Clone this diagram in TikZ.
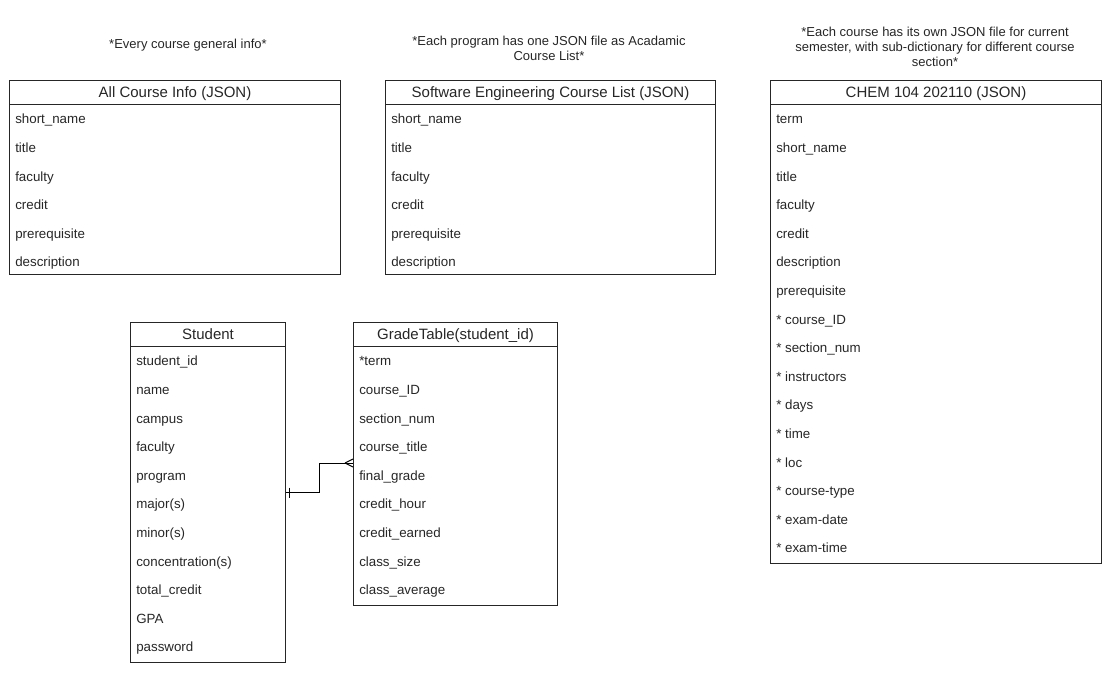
\documentclass[tikz,border=0pt]{standalone}
\usepackage{fontspec}
\setmainfont{Liberation Sans}
\usetikzlibrary{calc}
\def\pxu{0.75pt}
\tikzset{
	frame/.style={draw=black!85, line width=\pxu, inner sep=0pt, anchor=north west},
	header/.style={inner sep=0pt, text=black!85, text height=8pt, text depth=2.5pt, font=\fontsize{11.25}{13}\selectfont},
	field/.style={inner sep=0pt, anchor=west, text=black!85, text height=7.2pt, text depth=2.2pt, font=\fontsize{10}{12}\selectfont},
	caption/.style={inner sep=0pt, align=center, text=black!85, font=\fontsize{9.75}{11.25}\selectfont},
	relation/.style={line width=\pxu},
}
\def\jsonframe(#1)(#2:#3:#4:#5)#6% Syntax: (name) (left:top:width:height) {title}
{ \node[frame, minimum width=#4*\pxu, minimum height=#5*\pxu] (#1) at (#2,#3) {};
  \draw[draw=black!85, line width=\pxu] ($(#1.north west)+(0,24)$) -- ($(#1.north east)+(0,24)$);
  \node[header] (#1-title) at ($(#1.north)+(0,13.5)$) {#6}; }
\begin{document}
\begin{tikzpicture}[x=0.75pt,y=-0.75pt]
	\useasboundingbox (0,0) rectangle (1113,685);
	\node[caption] (info-note) at (188,45) {*Every course general info*};
	\node[caption] (prog-note) at (549,48) {*Each program has one JSON file as Acadamic\\Course List*};
	\node[caption] (chem-note) at (935,47) {*Each course has its own JSON file for current\\semester, with sub-dictionary for different course\\section*};
	\jsonframe(info)(9:80:331:194){All Course Info (JSON)}
	\foreach \f [count=\i] in {short\_name, title, faculty, credit, prerequisite, description}
		\node[field] (info-\i) at ($(info.north west)+(6,40.5+28.6*\i-28.6)$) {\f};
	\jsonframe(prog)(385:80:330:194){Software Engineering Course List (JSON)}
	\foreach \f [count=\i] in {short\_name, title, faculty, credit, prerequisite, description}
		\node[field] (prog-\i) at ($(prog.north west)+(6,40.5+28.6*\i-28.6)$) {\f};
	\jsonframe(chem)(770:80:331:483){CHEM 104 202110 (JSON)}
	\foreach \f [count=\i] in {term, short\_name, title, faculty, credit, description, prerequisite, * course\_ID, * section\_num, * instructors, * days, * time, * loc, * course-type, * exam-date, * exam-time}
		\node[field] (chem-\i) at ($(chem.north west)+(6,40.5+28.6*\i-28.6)$) {\f};
	\jsonframe(stud)(130:322:155:340){Student}
	\foreach \f [count=\i] in {student\_id, name, campus, faculty, program, major(s), minor(s), concentration(s), total\_credit, GPA, password}
		\node[field] (stud-\i) at ($(stud.north west)+(6,40.5+28.6*\i-28.6)$) {\f};
	\jsonframe(grade)(353:322:204:283){GradeTable(student\_id)}
	\foreach \f [count=\i] in {*term, course\_ID, section\_num, course\_title, final\_grade, credit\_hour, credit\_earned, class\_size, class\_average}
		\node[field] (grade-\i) at ($(grade.north west)+(6,40.5+28.6*\i-28.6)$) {\f};
	% one student -- many grade rows
	\coordinate (grade-in) at ($(grade.north west)+(0,141)$);
	\draw[relation] (stud.east) -- ++(33,0) |- (grade-in);
	\draw[relation] ($(stud.east)+(3,-5)$) -- ++(0,10);
	\draw[relation] ($(grade-in)+(-8,0)$) -- ++(8,-4) ($(grade-in)+(-8,0)$) -- ++(8,4);
\end{tikzpicture}
\end{document}
